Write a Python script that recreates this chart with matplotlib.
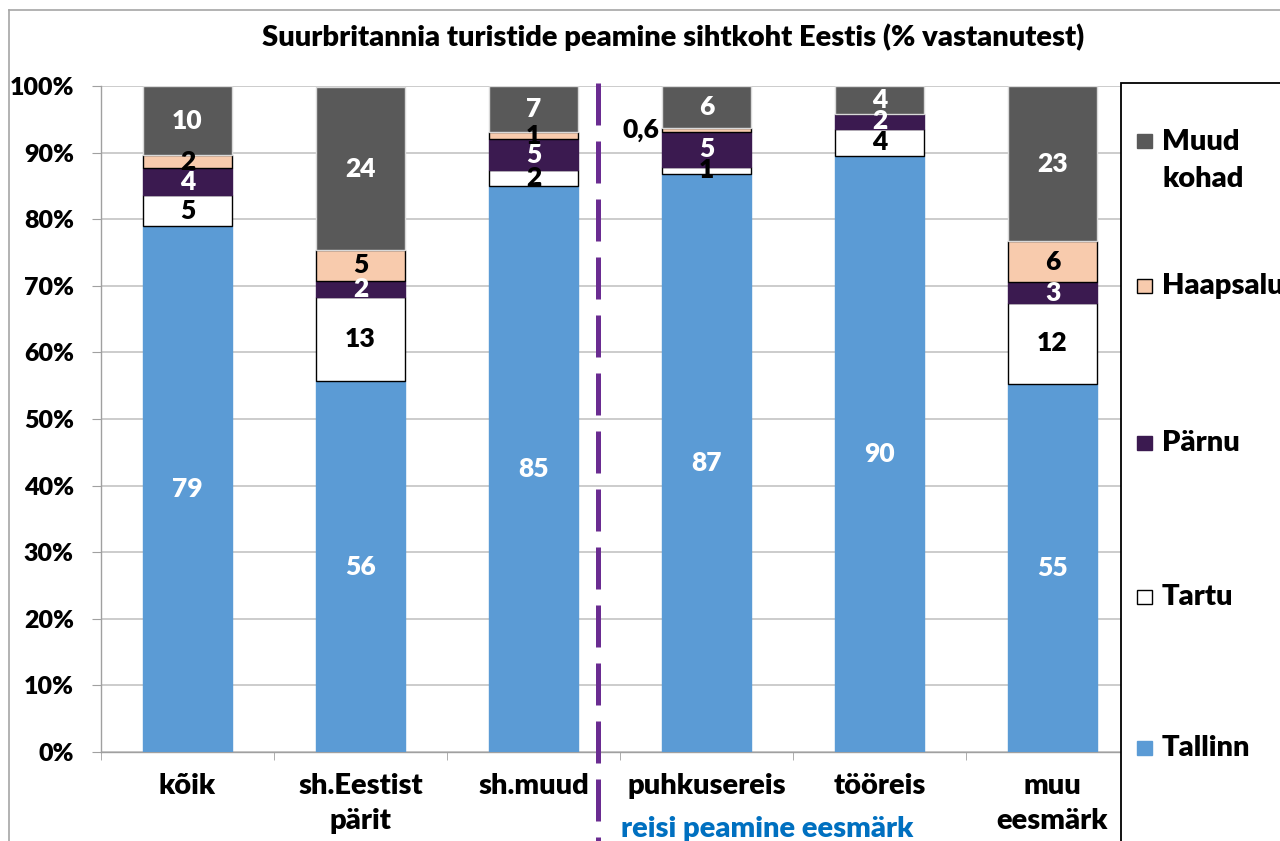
import matplotlib
matplotlib.use("Agg")
import matplotlib.pyplot as plt
from matplotlib.patches import Rectangle
from matplotlib.lines import Line2D
import numpy as np

# --- data (% of respondents) ---
categories = ["kõik", "sh.Eestist\npärit", "sh.muud", "puhkusereis", "tööreis", "muu\neesmärk"]
series_names = ["Tallinn", "Tartu", "Pärnu", "Haapsalu", "Muud\nkohad"]
tallinn = [79.0, 55.7, 85.0, 86.8, 89.5, 55.3]
tartu = [4.6, 12.6, 2.4, 1.1, 4.1, 12.1]
parnu = [4.1, 2.4, 4.6, 5.2, 2.2, 3.1]
haapsalu = [1.9, 4.7, 1.1, 0.6, 0.0, 6.2]
muud = [10.4, 24.4, 6.9, 6.3, 4.2, 23.3]
yticks = [0, 10, 20, 30, 40, 50, 60, 70, 80, 90, 100]

series = [tallinn, tartu, parnu, haapsalu, muud]
colors = ["#5B9BD5", "#FFFFFF", "#3B1A50", "#F8CBAD", "#595959"]
edges = ["#5B9BD5", "black", "#3B1A50", "black", "#D9D9D9"]
text_colors = ["white", "black", "white", "black", "white"]

WEIGHT = "heavy"
plt.rcParams["font.family"] = ["Lato", "DejaVu Sans"]
plt.rcParams["font.weight"] = WEIGHT

fig = plt.figure(figsize=(12.8, 8.41), dpi=100)
ax = fig.add_axes([101 / 1280, 1 - 752 / 841, 1038 / 1280, 666 / 841])

x = np.arange(len(categories))
bottom = np.zeros(len(categories))
for vals, col, ec, tc in zip(series, colors, edges, text_colors):
    vals = np.array(vals)
    ax.bar(x, vals, width=0.518, bottom=bottom, color=col, edgecolor=ec,
           linewidth=1.0, zorder=3)
    for xi, b, v in zip(x, bottom, vals):
        if v <= 0:
            continue
        if v < 1:
            # tiny segment: label sits to the left of the bar
            ax.text(xi - 0.275, b + v / 2, f"{v:.1f}".replace(".", ","),
                    ha="right", va="center", fontsize=19, fontweight=WEIGHT,
                    color="black", zorder=5)
        else:
            ax.text(xi, b + v / 2, f"{round(v):d}", ha="center", va="center",
                    fontsize=19, fontweight=WEIGHT, color=tc, zorder=5)
    bottom += vals

ax.set_xlim(-0.5, len(categories) - 0.5)
ax.set_ylim(0, 100)
ax.set_yticks(yticks)
ax.set_yticklabels([f"{t}%" for t in yticks])
ax.set_xticks(x)
ax.set_xticklabels(categories, linespacing=1.45)
ax.set_xticks(np.arange(-0.5, len(categories)), minor=True)

ax.grid(axis="y", color="#BFBFBF", linewidth=1.1, zorder=0)
ax.set_axisbelow(True)
for side in ["top", "right"]:
    ax.spines[side].set_visible(False)
for side in ["left", "bottom"]:
    ax.spines[side].set_color("#A0A0A0")
    ax.spines[side].set_linewidth(1.0)

ax.tick_params(axis="y", length=6.5, color="#A0A0A0", pad=13, labelsize=18)
ax.tick_params(axis="x", which="major", length=0, pad=15, labelsize=21)
ax.tick_params(axis="x", which="minor", length=6, color="#A0A0A0")
for lab in ax.get_xticklabels() + ax.get_yticklabels():
    lab.set_fontweight(WEIGHT)

# dashed separator between groups
sep = Line2D([2.373, 2.373], [100.5, -13.5], color="#6A2C91", linewidth=3.6,
             clip_on=False, zorder=6)
sep.set_dashes((8.4, 3.2))
ax.add_line(sep)

ax.text(2.505, -11.6, "reisi peamine eesmärk", ha="left", va="center",
        fontsize=21, fontweight=WEIGHT, color="#0070C0", clip_on=False)

# title
fig.text(673 / 1280, 1 - 37 / 841,
         "Suurbritannia turistide peamine sihtkoht Eestis (% vastanutest)",
         ha="center", va="center", fontsize=21, fontweight=WEIGHT)

# chart area border
fig.add_artist(Line2D([9 / 1280, 9 / 1280], [0, 1 - 10 / 841],
                      transform=fig.transFigure, color="#A6A6A6", linewidth=1.2))
fig.add_artist(Line2D([9 / 1280, 1], [1 - 10 / 841, 1 - 10 / 841],
                      transform=fig.transFigure, color="#A6A6A6", linewidth=1.2))

# legend box (drawn by hand, reversed order like the source)
fig.add_artist(Rectangle((1120.5 / 1280, -0.01), 0.2, 1 - 83.5 / 841 + 0.01,
                         transform=fig.transFigure, facecolor="white",
                         edgecolor="black", linewidth=1.3, zorder=10))
legend_y = [748, 597, 443, 286, 141]
for name, col, ec, ly in zip(series_names, colors, edges, legend_y):
    fig.add_artist(Rectangle((1137 / 1280, 1 - (ly + 7) / 841), 15 / 1280, 14 / 841,
                             transform=fig.transFigure, facecolor=col,
                             edgecolor="black" if col in ("#FFFFFF", "#F8CBAD") else col,
                             linewidth=1.0, zorder=11))
    fig.text(1162 / 1280, 1 - (ly + 19.5 * name.count("\n")) / 841, name,
             ha="left", va="center", fontsize=21, fontweight=WEIGHT,
             linespacing=1.5, zorder=12)

fig.savefig("out.png", dpi=100)
